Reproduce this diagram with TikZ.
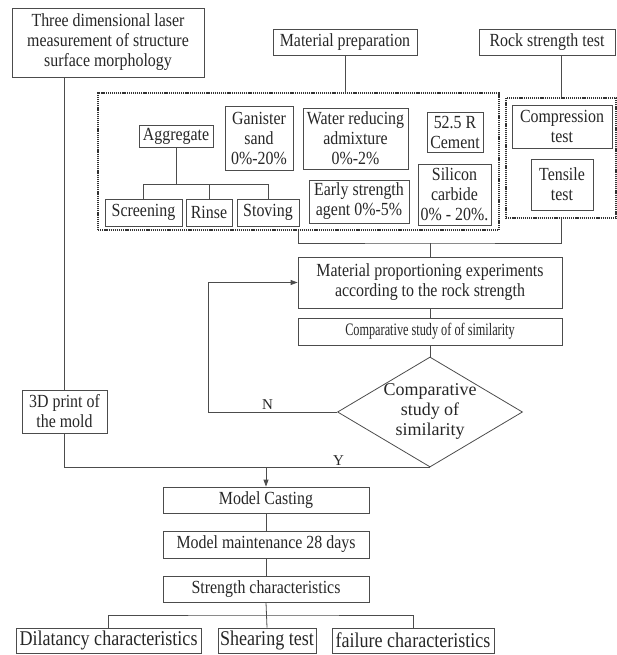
\documentclass[tikz,border=0pt]{standalone}
\usepackage{fontspec}
\setmainfont[FakeStretch=0.86]{Liberation Serif}
\newfontfamily\plainserif{Liberation Serif}
\newfontfamily\narrowserif[FakeStretch=0.7]{Liberation Serif}
\usetikzlibrary{shapes.geometric,arrows.meta}
\tikzset{
  box/.style={draw=black!70, line width=0.8pt, inner sep=1pt, align=center, text=black!85, font=\fontsize{18.5}{20}\selectfont},
  dotbox/.style={draw=black!80, line width=1.5pt, dash pattern=on 1.2pt off 0.9pt},
  link/.style={draw=black!70, line width=0.8pt},
  lbl/.style={text=black!85, inner sep=2pt, font=\plainserif\fontsize{15}{15}\selectfont},
  big/.style={font=\fontsize{21}{22}\selectfont}
}
\begin{document}
\begin{tikzpicture}[x=1pt,y=-1pt,>={Triangle[length=7pt,width=5pt]}]
  \useasboundingbox (0,0) rectangle (617,655);
  \node[box, minimum width=192, minimum height=69] (laser) at (108,42.5) {Three dimensional laser\\measurement of structure\\surface morphology};
  \node[box, minimum width=144, minimum height=26] (prep) at (345,42) {Material preparation};
  \node[box, minimum width=136, minimum height=26] (rock) at (547,42) {Rock strength test};
  \node[dotbox, minimum width=401, minimum height=137] (matbox) at (298.5,161.5) {};
  \node[dotbox, minimum width=110, minimum height=120] (rockbox) at (561,158) {};
  \node[box, minimum width=74, minimum height=22] (aggregate) at (176,136) {Aggregate};
  \node[box, minimum width=68, minimum height=64] (ganister) at (259,138) {Ganister\\sand\\0\%-20\%};
  \node[box, minimum width=77, minimum height=27] (screening) at (143.5,212.5) {Screening};
  \node[box, minimum width=46, minimum height=27] (rinse) at (209,212.5) {Rinse};
  \node[box, minimum width=62, minimum height=27] (stoving) at (268,212.5) {Stoving};
  \node[box, minimum width=105, minimum height=61] (water) at (355.5,138.5) {Water reducing\\admixture\\0\%-2\%};
  \node[box, minimum width=100, minimum height=43] (early) at (359,201.5) {Early strength\\agent 0\%-5\%};
  \node[box, minimum width=56, minimum height=40] (cement) at (455,132) {52.5 R\\Cement};
  \node[box, minimum width=73, minimum height=61] (silicon) at (454.5,194.5) {Silicon\\carbide\\0\% - 20\%.};
  \node[box, minimum width=100, minimum height=43] (compression) at (562,126.5) {Compression\\test};
  \node[box, minimum width=62, minimum height=51] (tensile) at (562,184.5) {Tensile\\test};
  \node[box, minimum width=264, minimum height=51] (proportion) at (430,282.5) {Material proportioning experiments\\according to the rock strength};
  \node[box, minimum width=264, minimum height=27, font=\narrowserif\fontsize{17.5}{20}\selectfont] (compare) at (430,331.5) {Comparative study of of similarity};
  \node[box, diamond, minimum width=185, minimum height=110, inner sep=0pt, font=\plainserif\fontsize{18}{20}\selectfont] (check) at (430,412) {\smash{\raisebox{-4pt}{\begin{tabular}{@{}c@{}}Comparative\\study of\\similarity\end{tabular}}}};
  \node[box, minimum width=85, minimum height=43] (print3d) at (64.5,411.5) {3D print of\\the mold};
  \node[box, minimum width=206, minimum height=26] (casting) at (266,500) {Model Casting};
  \node[box, minimum width=206, minimum height=27] (maintain) at (266,544.5) {Model maintenance 28 days};
  \node[box, minimum width=206, minimum height=26] (strength) at (266,589) {Strength characteristics};
  \node[box, big, minimum width=185, minimum height=25] (dilatancy) at (108.5,640.5) {Dilatancy characteristics};
  \node[box, big, minimum width=98, minimum height=25] (shearing) at (267,640.5) {Shearing test};
  \node[box, big, minimum width=162, minimum height=25] (failure) at (413,640.5) {failure characteristics};

  \draw[link] (laser.south -| print3d.north) -- (print3d.north);
  \draw[link] (prep.south) -- (prep.south |- matbox.north);
  \draw[link] (rockbox.north) -- (rockbox.north |- rock.south);
  \coordinate (aggsplit) at (176,184);
  \draw[link] (aggregate.south) -- (aggsplit);
  \draw[link] (screening.north) -- (screening.north |- aggsplit) -- (stoving.north |- aggsplit) -- (stoving.north);
  \draw[link] (rinse.north) -- (rinse.north |- aggsplit);
  \coordinate (merge) at (430,243);
  \draw[link] (matbox.south) |- (merge) -| (rockbox.south);
  \draw[link] (merge) -- (proportion.north);
  \draw[link] (proportion) -- (compare);
  \draw[link] (compare) -- (check);
  \draw[link,->] (check.west) -- ++(-129,0) node[pos=0.54, above, lbl] {N} |- (proportion.west);
  \draw[link] (print3d.south) |- node[pos=0.875, above, lbl] {Y} (check.south);
  \draw[link,->] (casting.north |- check.south) -- (casting.north);
  \draw[link] (casting) -- (maintain);
  \draw[link] (maintain) -- (strength);
  \coordinate (strsplit) at (266,615);
  \draw[link] (strength.south) -- (shearing.north);
  \draw[link] (dilatancy.north) |- (strsplit) -| (failure.north);
\end{tikzpicture}
\end{document}
